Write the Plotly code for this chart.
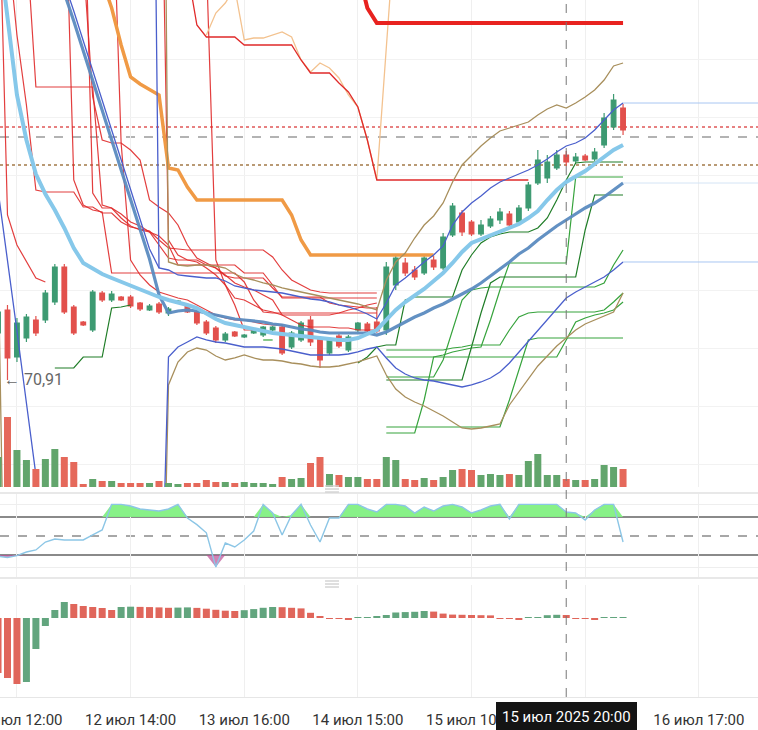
import plotly.graph_objects as go

# hourly candles, index 0..66
tick_idx = [2, 14, 26, 38, 50, 62, 74]
tick_text = ["11 июл 12:00", "12 июл 14:00", "13 июл 16:00", "14 июл 15:00", "15 июл 10:00", "", "16 июл 17:00"]
cursor_idx = 60
cursor_label = "15 июл 2025 20:00"
low_mark = 70.91

opens = [71.38, 71.61, 71.14, 71.33, 71.51, 71.51, 71.69, 72.04, 71.64, 71.49,
         71.41, 71.78, 71.71, 71.74, 71.74, 71.68, 71.61, 71.67, 71.58, 71.68,
         71.66, 71.59, 71.49, 71.43, 71.31, 71.39, 71.34, 71.38, 71.36, 71.41,
         71.44, 71.24, 71.31, 71.51, 71.33, 71.18, 71.35, 71.21, 71.41, 71.47,
         71.49, 71.41, 71.86, 72.08, 72.01, 71.98, 72.11, 72.03, 72.36, 72.58,
         72.49, 72.37, 72.45, 72.51, 72.57, 72.49, 72.63, 72.88, 72.93, 73.03,
         73.16, 73.10, 73.15, 73.12, 73.26, 73.44, 73.63]
highs = [71.66, 71.66, 71.53, 71.57, 71.55, 71.81, 72.07, 72.07, 71.66, 71.50,
         71.81, 71.80, 71.80, 71.75, 71.76, 71.69, 71.67, 71.69, 71.64, 71.71,
         71.67, 71.61, 71.51, 71.45, 71.39, 71.40, 71.37, 71.42, 71.45, 71.45,
         71.47, 71.40, 71.50, 71.55, 71.35, 71.33, 71.37, 71.36, 71.49, 71.49,
         71.64, 72.09, 72.16, 72.13, 72.05, 72.16, 72.15, 72.38, 72.68, 72.61,
         72.51, 72.51, 72.55, 72.63, 72.60, 72.66, 72.89, 73.21, 73.16, 73.21,
         73.20, 73.18, 73.17, 73.23, 73.58, 73.77, 73.67]
lows = [71.33, 70.91, 71.09, 71.29, 71.35, 71.48, 71.66, 71.57, 71.36, 71.45,
        71.39, 71.69, 71.69, 71.70, 71.63, 71.60, 71.60, 71.57, 71.55, 71.67,
        71.58, 71.46, 71.36, 71.28, 71.29, 71.34, 71.33, 71.37, 71.34, 71.40,
        71.16, 71.22, 71.29, 71.25, 71.03, 71.16, 71.23, 71.19, 71.39, 71.38,
        71.38, 71.36, 71.81, 71.95, 71.91, 71.96, 72.01, 72.01, 72.34, 72.35,
        72.35, 72.35, 72.43, 72.47, 72.43, 72.47, 72.60, 72.86, 72.88, 73.01,
        73.05, 73.08, 73.10, 73.10, 73.23, 73.41, 73.36]
closes = [71.59, 71.13, 71.48, 71.54, 71.38, 71.78, 72.04, 71.59, 71.38, 71.46,
          71.79, 71.71, 71.77, 71.71, 71.65, 71.62, 71.65, 71.59, 71.62, 71.70,
          71.59, 71.48, 71.38, 71.31, 71.37, 71.35, 71.36, 71.41, 71.44, 71.44,
          71.18, 71.38, 71.48, 71.29, 71.11, 71.31, 71.25, 71.34, 71.48, 71.40,
          71.40, 72.04, 72.13, 71.98, 71.94, 72.13, 72.04, 72.34, 72.65, 72.39,
          72.37, 72.46, 72.52, 72.59, 72.46, 72.63, 72.86, 73.11, 73.09, 73.16,
          73.09, 73.14, 73.11, 73.19, 73.53, 73.71, 73.41]
volume = [30, 70, 37, 27, 18, 28, 38, 30, 25, 3,
          8, 6, 6, 4, 4, 4, 4, 6, 4, 3,
          4, 4, 7, 5, 5, 4, 5, 4, 4, 3,
          10, 8, 9, 24, 30, 13, 12, 10, 10, 8,
          8, 30, 27, 8, 7, 9, 7, 10, 17, 18,
          17, 12, 13, 12, 13, 12, 26, 33, 12, 12,
          8, 7, 7, 8, 22, 20, 18]

ma_fast = [75.31, 74.51, 73.76, 73.31, 72.97, 72.77, 72.61, 72.43, 72.23, 72.08,
           72.02, 71.97, 71.93, 71.89, 71.85, 71.81, 71.78, 71.74, 71.71, 71.69,
           71.66, 71.63, 71.57, 71.52, 71.48, 71.46, 71.43, 71.41, 71.39, 71.38,
           71.37, 71.36, 71.35, 71.34, 71.32, 71.31, 71.31, 71.31, 71.33, 71.37,
           71.41, 71.51, 71.61, 71.69, 71.75, 71.82, 71.90, 71.98, 72.08, 72.19,
           72.28, 72.32, 72.36, 72.40, 72.43, 72.47, 72.53, 72.60, 72.71, 72.81,
           72.89, 72.94, 73.00, 73.07, 73.14, 73.21, 73.26]
ma_slow = [None, None, None, None, None, None, 75.11, 74.78, 74.50, 74.20,
           73.91, 73.61, 73.31, 73.02, 72.72, 72.42, 72.12, 71.76, 71.58, 71.60,
           71.61, 71.60, 71.58, 71.56, 71.54, 71.52, 71.51, 71.50, 71.49, 71.47,
           71.46, 71.44, 71.42, 71.41, 71.39, 71.38, 71.38, 71.38, 71.38, 71.38,
           71.36, 71.39, 71.44, 71.49, 71.54, 71.58, 71.63, 71.67, 71.72, 71.77,
           71.82, 71.88, 71.95, 72.02, 72.09, 72.17, 72.23, 72.31, 72.38, 72.45,
           72.51, 72.57, 72.63, 72.68, 72.74, 72.81, 72.88]
ma_thin = [75.21, 74.88, 74.60, 74.30, 74.01, 73.71, 73.41, 73.12, 72.82, 72.52, 72.22, 72.03]  # from 6
bb_upper = [80.71, 72.03, 72.01, 71.96, 71.95, 71.94, 71.93, 71.93, 71.90, 71.85,
            71.83, 71.81, 71.80, 71.79, 71.78, 71.76, 71.74, 71.72, 71.71, 71.69,
            71.66, 71.64, 71.61, 71.57, 71.52, 71.68, 71.86, 71.93, 72.01, 72.09,
            72.16, 72.25, 72.46, 72.59, 72.68, 72.75, 72.83, 72.89, 72.93, 72.97,
            73.01, 73.06, 73.12, 73.19, 73.25, 73.28, 73.33, 73.41, 73.51, 73.61,
            73.68]  # from 16
bb_lower = [72.81, 72.12, 71.40, 70.68, 69.96, 69.24, 67.71, 67.71, 67.71, 67.71,
            67.71, 67.71, 67.71, 67.71, 67.71, 67.71, 67.71, 67.71, 71.14, 71.24,
            71.29, 71.34, 71.31, 71.29, 71.28, 71.26, 71.24, 71.24, 71.24, 71.23,
            71.22, 71.20, 71.18, 71.16, 71.16, 71.16, 71.16, 71.17, 71.19, 71.22,
            71.24, 71.13, 71.03, 70.97, 70.93, 70.91, 70.90, 70.88, 70.86, 70.84,
            70.86, 70.89, 70.93, 70.99, 71.08, 71.19, 71.30, 71.41, 71.51, 71.63,
            71.73, 71.79, 71.84, 71.89, 71.94, 72.01, 72.09]
env_upper = [82.71, 72.09, 72.06, 72.05, 72.06, 72.06, 72.05, 72.03, 71.97, 71.93,
             71.91, 71.88, 71.86, 71.83, 71.81, 71.79, 71.77, 71.75, 71.73, 71.71,
             71.69, 71.67, 71.64, 71.61, 71.91, 72.09, 72.18, 72.33, 72.46, 72.55,
             72.68, 72.89, 73.06, 73.16, 73.25, 73.33, 73.40, 73.43, 73.46, 73.49,
             73.56, 73.62, 73.66, 73.63, 73.68, 73.74, 73.81, 73.91, 74.05, 74.08]  # from 17
env_lower = [72.20, 66.71, 66.71, 66.71, 66.71, 66.71, 66.71, 66.71, 66.71, 66.71,
             66.71, 66.71, 66.71, 66.71, 66.71, 66.71, 66.71, 66.71, 70.86, 71.09,
             71.19, 71.23, 71.21, 71.15, 71.11, 71.13, 71.16, 71.13, 71.11, 71.11,
             71.10, 71.08, 71.07, 71.05, 71.04, 71.04, 71.05, 71.07, 71.09, 71.12,
             71.15, 70.96, 70.82, 70.74, 70.69, 70.65, 70.60, 70.55, 70.49, 70.43,
             70.42, 70.43, 70.45, 70.47, 70.66, 70.79, 70.91, 71.05, 71.15, 71.25,
             71.33, 71.41, 71.47, 71.51, 71.55, 71.59, 71.78]
orange_stop = [74.91, 74.63, 74.26, 73.94, 73.87, 73.81, 73.76, 73.03, 73.01, 72.84,
               72.71, 72.71, 72.71, 72.71, 72.71, 72.71, 72.71, 72.71, 72.71, 72.71,
               72.56, 72.31, 72.16, 72.16, 72.16, 72.16, 72.16, 72.16, 72.16, 72.16,
               72.16, 72.16, 72.16, 72.16, 72.16, 72.16]  # from 11
peach_line = [74.36, 74.58, 74.68, 74.83, 74.31, 74.33, 74.33, 74.36, 74.39, 74.34,
              74.11, 73.99, 74.08, 74.03, 73.93, 73.76, 73.64, 73.31, 72.91, 74.23,
              75.55]  # from 22
red_stop = [75.01, 74.46, 74.34, 74.34, 74.34, 74.34, 74.26, 74.26, 74.26, 74.26,
            74.26, 74.26, 74.11, 73.98, 73.98, 73.98, 73.88, 73.79, 73.64, 73.31,
            72.91, 72.91, 72.91, 72.91, 72.91, 72.91, 72.91, 72.91, 72.91, 72.91,
            72.91, 72.91, 72.91, 72.91, 72.91, 72.91, 72.91]  # from 20
red_thick = [75.01, 74.63, 74.48, 74.48, 74.48, 74.48, 74.48, 74.48, 74.48, 74.48,
             74.48, 74.48, 74.48, 74.48, 74.48, 74.48, 74.48, 74.48, 74.48, 74.48,
             74.48, 74.48, 74.48, 74.48, 74.48, 74.48, 74.48, 74.48, 74.48]  # from 38

# short-side trailing stops (start index, values)
red_a = (0, [76.21, 72.56, 72.26, 72.09, 71.93, 71.89])
red_b = (1, [75.31, 74.36, 73.66, 72.81, 72.79, 72.79, 72.79, 72.79, 72.64, 72.64,
             72.58, 72.58, 72.49, 72.44, 72.42, 72.40, 72.31, 72.23, 72.22, 72.21,
             72.21, 72.21, 72.21, 72.21, 72.21, 72.21, 72.21, 72.21, 72.14, 72.01,
             71.91, 71.86, 71.81, 71.79, 71.78, 71.78, 71.78, 71.78, 71.78, 71.78])
red_c = (3, [75.31, 73.84, 73.84, 73.84, 73.84, 73.84, 73.84, 73.84, 72.66, 72.63,
             72.57, 72.49, 72.45, 72.39, 72.26, 72.13, 72.11, 72.11, 72.11, 72.06,
             72.03, 71.95, 71.93, 71.93, 71.93, 71.93, 71.83, 71.74, 71.74, 71.74,
             71.74, 71.74, 71.68, 71.66, 71.65, 71.64, 71.63, 71.63])
red_d = (7, [76.21, 72.91, 72.66, 72.61, 72.59, 71.98, 71.98, 71.98, 71.98, 71.98,
             71.98, 71.98, 71.98, 71.98, 71.98, 71.98, 71.98, 71.98, 71.98, 71.89,
             71.71, 71.59, 71.58, 71.58, 71.58, 71.58, 71.58, 71.58, 71.58, 71.58,
             71.58, 71.58, 71.58, 71.58])
red_e = (9, [76.21, 72.78, 72.63, 72.63, 72.53, 72.45, 72.41, 72.39, 72.35, 72.26,
             72.06, 72.06, 72.06, 72.06, 72.06, 72.06, 72.06, 71.98, 71.98, 71.98,
             71.86, 71.73, 71.73, 71.73, 71.73, 71.73, 71.73, 71.73, 71.73, 71.73,
             71.73, 71.73])
red_f = (9, [75.11, 73.74, 73.31, 73.28, 73.28, 73.21, 73.11, 72.71, 72.64, 72.58,
             72.46, 72.26, 72.13, 72.08, 72.03, 71.96, 71.88, 71.84, 71.81, 71.76,
             71.71, 71.56, 71.56, 71.56, 71.56, 71.56, 71.56, 71.58, 71.61, 71.63,
             71.66, 71.68])
red_g = (12, [76.21, 73.28, 72.11, 71.96, 71.86, 71.79, 71.76, 71.73, 71.71, 71.66,
              71.61, 71.56, 71.53, 71.51, 71.51, 71.49, 71.47, 71.46, 71.46])
red_h = (17, [77.71, 72.31, 72.16, 72.11, 72.09, 72.03, 71.96, 71.86, 71.73, 71.71,
              71.66, 71.61, 71.59, 71.56, 71.51, 71.46, 71.44, 71.44, 71.44, 71.43,
              71.43, 71.41, 71.41, 71.41])
red_i = (22, [75.11, 72.11, 71.86, 71.66, 71.41, 71.41])

# long-side trailing stops
green_a = (6, [71.03, 71.03, 71.03, 71.14, 71.14, 71.14, 71.63, 71.64, 71.66])
green_b = (28, [71.31, 71.31])
green_c = (38, [71.08, 71.14, 71.24, 71.26, 71.26, 71.71, 71.74, 71.74, 71.74, 71.74,
                71.74, 72.01, 72.16, 72.28, 72.34, 72.37, 72.39, 72.39, 72.39, 72.43,
                72.53, 72.71, 72.91, 73.08, 73.09, 73.09, 73.09, 73.09, 73.09])
green_d = (41, [70.44, 70.44, 70.44, 70.44, 70.44, 70.44, 70.44, 70.44, 70.44, 70.44,
                70.44, 70.44, 70.44, 70.71, 71.01, 71.31, 71.33, 71.33, 71.33, 71.33,
                71.33, 71.33, 71.33, 71.33, 71.33, 71.33])
green_e = (41, [70.38, 70.38, 70.38, 70.38, 70.71, 71.14, 71.16, 71.19, 71.21, 71.23,
                71.24, 71.51, 71.81, 72.08, 72.08, 72.08, 72.08, 72.08, 72.08, 72.08,
                72.94, 72.94, 72.94, 72.94, 72.94, 72.94])
green_f = (41, [70.91, 70.91, 70.91, 70.91, 70.91, 70.91, 70.91, 70.91, 70.91, 71.24,
                71.58, 71.88, 71.94, 71.94, 71.94, 71.94, 71.94, 71.94, 71.94, 71.94,
                71.94, 72.41, 72.76, 72.76, 72.76, 72.76])
green_g = (41, [70.94, 70.94, 70.94, 70.94, 70.94, 70.94, 71.11, 71.41, 71.71, 71.81,
                71.83, 71.84, 71.84, 71.84, 71.84, 71.84, 71.84, 71.84, 71.84, 71.84,
                71.84, 71.84, 71.84, 71.88, 72.06, 72.21])
green_h = (41, [71.21, 71.21, 71.21, 71.21, 71.21, 71.21, 71.21, 71.23, 71.24, 71.26,
                71.26, 71.26, 71.26, 71.41, 71.54, 71.58, 71.59, 71.59, 71.59, 71.59,
                71.59, 71.59, 71.59, 71.61, 71.69, 71.78])
green_i = (41, [71.14, 71.14, 71.14, 71.14, 71.14, 71.14, 71.14, 71.14, 71.14, 71.14,
                71.14, 71.14, 71.14, 71.14, 71.14, 71.14, 71.14, 71.14, 71.14, 71.31,
                71.49, 71.53, 71.56, 71.58, 71.61, 71.69])

level_red = 73.44
level_gray = 73.34
level_brown = 73.06

osc = [18.0, 16.0, 19.0, 24.7, 27.9, 40.5, 45.3, 43.7, 43.7, 43.7,
       51.6, 59.5, 100, 100, 97.4, 92.7, 91.1, 89.5, 92.7, 100,
       78.4, 68.0, 55.0, 1.0, 38.9, 32.6, 43.7, 57.9, 100, 86.3,
       51.6, 83.2, 100, 67.4, 40.5, 78.4, 78.4, 100, 100, 92.7,
       87.9, 100, 100, 97.4, 86.3, 95.8, 89.5, 97.4, 100, 95.8,
       86.3, 91.1, 97.4, 100, 76.9, 100, 100, 100, 100, 100,
       87.9, 86.3, 75.3, 91.1, 100, 100, 40.5]
hist = [-55, -60, -66, -64, -31, -8, 8, 16, 14, 12,
        11, 10, 8, 11, 11.3, 11.1, 10.9, 10.6, 10.2, 10.4,
        10.6, 10.1, 9.3, 8.2, 7.3, 7.0, 7.8, 8.9, 10.2, 11.0,
        10.8, 10.2, 9.6, 5.2, 1.5, -0.8, -1.0, -1.2, 0.5, 0.8,
        1.2, 3.0, 5.5, 5.9, 6.2, 7.0, 6.4, 4.4, 3.4, 3.2,
        3.0, 2.8, 2.6, -0.8, -1.0, -1.1, 0.5, 1.0, 2.8, 3.2,
        3.0, -0.8, -1.0, -1.1, 0.4, 0.6, 0.8]

n = len(closes)
x = list(range(n))
x_end = 80.25


def pad(start, values):
    return [None] * start + list(values) + [None] * (n - start - len(values))


fig = go.Figure()

vol_colors = ["#62a56c" if c >= o else "#e5695b" for o, c in zip(opens, closes)]
fig.add_trace(go.Bar(x=x, y=volume, marker=dict(color=vol_colors, line_width=0), width=0.74,
                     xaxis="x2", yaxis="y2", hoverinfo="skip"))


def line(y, color, width, dash=None, opacity=1.0):
    fig.add_trace(go.Scatter(x=x, y=y, mode="lines", xaxis="x2", yaxis="y", opacity=opacity,
                             line=dict(color=color, width=width, dash=dash), hoverinfo="skip"))


for start, vals in [red_a, red_b, red_c, red_d, red_e, red_f, red_g, red_h, red_i]:
    line(pad(start, vals), "#e02a2a", 1.2, opacity=0.9)
for i, (start, vals) in enumerate([green_a, green_b, green_c, green_d, green_e, green_f, green_g, green_h, green_i]):
    line(pad(start, vals), "#1f7d27" if i in (0, 2, 5) else "#36a33c", 1.2)

line(pad(22, peach_line), "#f3c28f", 1.3)
line(pad(20, red_stop), "#e02a2a", 1.3)
line(pad(38, red_thick), "#e8221f", 4)
line(pad(11, orange_stop), "#f09a45", 3.5)
line(pad(17, env_upper), "#a88f5c", 1.3)
line(env_lower, "#a88f5c", 1.3)
line(pad(16, bb_upper), "#4a5fcc", 1.3)
line(bb_lower, "#4a5fcc", 1.3)
line(pad(6, ma_thin), "#4a5fcc", 1.3)
line(ma_slow, "#5b8cc0", 3.2, opacity=0.95)
line(ma_fast, "#86c8ea", 4)

# right-side price lines
for val, col in [(bb_upper[-1], "#a8c6f2"), (ma_slow[-1], "#d4e4f5"), (bb_lower[-1], "#a8c6f2")]:
    fig.add_trace(go.Scatter(x=[n - 1, x_end], y=[val, val], mode="lines", xaxis="x2", yaxis="y",
                             line=dict(color=col, width=1), hoverinfo="skip"))

fig.add_trace(go.Candlestick(
    x=x, open=opens, high=highs, low=lows, close=closes, xaxis="x2", yaxis="y",
    increasing=dict(line=dict(color="#3d9a72", width=1.2), fillcolor="#3d9a72"),
    decreasing=dict(line=dict(color="#e2504c", width=1.2), fillcolor="#e2504c"),
    whiskerwidth=0, hoverinfo="skip"))

# oscillator panel
osc_hi = [max(v, 80) for v in osc]
osc_lo = [min(v, 20) for v in osc]
fig.add_trace(go.Scatter(x=x, y=[80] * n, mode="lines", line=dict(width=0), xaxis="x3", yaxis="y3", hoverinfo="skip"))
fig.add_trace(go.Scatter(x=x, y=osc_hi, mode="lines", line=dict(width=0), fill="tonexty",
                         fillcolor="rgba(130,240,130,0.95)", xaxis="x3", yaxis="y3", hoverinfo="skip"))
fig.add_trace(go.Scatter(x=x, y=[20] * n, mode="lines", line=dict(width=0), xaxis="x3", yaxis="y3", hoverinfo="skip"))
fig.add_trace(go.Scatter(x=x, y=osc_lo, mode="lines", line=dict(width=0), fill="tonexty",
                         fillcolor="rgba(190,80,150,0.7)", xaxis="x3", yaxis="y3", hoverinfo="skip"))
fig.add_trace(go.Scatter(x=x, y=osc, mode="lines", line=dict(color="#8cc6e6", width=1.4),
                         xaxis="x3", yaxis="y3", hoverinfo="skip"))

# histogram panel
hist_colors = ["#e0665b"] + ["#62a57e" if hist[i] > hist[i - 1] else "#e0665b" for i in range(1, n)]
fig.add_trace(go.Bar(x=x, y=hist, marker=dict(color=hist_colors, line_width=0), width=0.74,
                     xaxis="x", yaxis="y4", hoverinfo="skip"))

grid = "#efefef"
fig.update_layout(
    width=758, height=730,
    margin=dict(l=0, r=0, t=0, b=30, autoexpand=False),
    paper_bgcolor="white", plot_bgcolor="white",
    showlegend=False,
    font=dict(family="Roboto, Arial, sans-serif"),
    xaxis=dict(domain=[0, 1], anchor="y4", range=[0.21, x_end], tickmode="array",
               tickvals=tick_idx, ticktext=tick_text, showgrid=True, gridcolor=grid,
               zeroline=False, ticks="outside", ticklen=9, tickcolor="rgba(0,0,0,0)",
               showline=True, linecolor="#e6e6e6", ticklabeloverflow="allow", automargin=False,
               tickfont=dict(size=15, color="#333333")),
    xaxis2=dict(matches="x", anchor="y", tickmode="array", tickvals=tick_idx, showticklabels=False,
                showgrid=True, gridcolor=grid, zeroline=False, rangeslider=dict(visible=False),
                automargin=False),
    xaxis3=dict(matches="x", anchor="y3", tickmode="array", tickvals=tick_idx, showticklabels=False,
                showgrid=True, gridcolor=grid, zeroline=False, automargin=False),
    yaxis=dict(domain=[0.3043, 1], anchor="x2", range=[69.84, 74.71], showticklabels=False,
               tickmode="array", tickvals=[74.12, 73.54, 72.96, 72.38, 71.80, 71.22, 70.64, 70.06],
               showgrid=True, gridcolor="#f2f2f2", zeroline=False, automargin=False),
    yaxis2=dict(overlaying="y", anchor="x2", range=[0, 487], visible=False),
    yaxis3=dict(domain=[0.1743, 0.2971], anchor="x3", range=[-16.4, 119.5], showticklabels=False,
                tickmode="array", tickvals=[0, 100], showgrid=True, gridcolor="#eeeeee", zeroline=False,
                automargin=False),
    yaxis4=dict(domain=[0.0043, 0.1643], anchor="x", range=[-79, 33], showticklabels=False,
                showgrid=False, zeroline=False, automargin=False),
)

shapes = []
for lvl, col, dash in [(level_red, "#e05858", "dot"), (level_gray, "#9a9a9a", "dash"), (level_brown, "#a27a48", "dot")]:
    shapes.append(dict(type="line", xref="paper", x0=0, x1=1, yref="y", y0=lvl, y1=lvl,
                       line=dict(color=col, width=1.6, dash=dash), layer="below"))
for lvl, dash, w in [(80, "solid", 2), (50, "dash", 1.6), (20, "solid", 2)]:
    shapes.append(dict(type="line", xref="paper", x0=0, x1=1, yref="y3", y0=lvl, y1=lvl,
                       line=dict(color="#8a8a8a", width=w, dash=dash), layer="below"))
# pane separators with drag handles
for yp, handle in [(0.2957, [0.3057, 0.3014, 0.2971]), (0.1743, [0.17, 0.1657, 0.1614])]:
    shapes.append(dict(type="line", xref="paper", x0=0, x1=1, yref="paper", y0=yp, y1=yp,
                       line=dict(color="#e8e8e8", width=2)))
    for hy in handle:
        shapes.append(dict(type="line", xref="paper", x0=0.4288, x1=0.4472, yref="paper", y0=hy, y1=hy,
                           line=dict(color="#d4d4d4", width=1.5)))
shapes.append(dict(type="line", xref="x", x0=cursor_idx, x1=cursor_idx, yref="paper", y0=0.0043, y1=1,
                   line=dict(color="#777777", width=1, dash="dash")))
fig.update_layout(shapes=shapes)

fig.add_annotation(x=0.002, xref="paper", xanchor="left", y=low_mark, yref="y",
                   text="← 70,91", showarrow=False, font=dict(size=16, color="#666666"))
fig.add_annotation(x=cursor_idx, xref="x", y=-0.0245, yref="paper", yanchor="middle", text=cursor_label,
                   showarrow=False, bgcolor="#141414", bordercolor="#141414", borderpad=5,
                   font=dict(size=15, color="white"))

fig.write_html("out.html", config={"displayModeBar": False},
               post_script="document.body.style.margin='0';")
